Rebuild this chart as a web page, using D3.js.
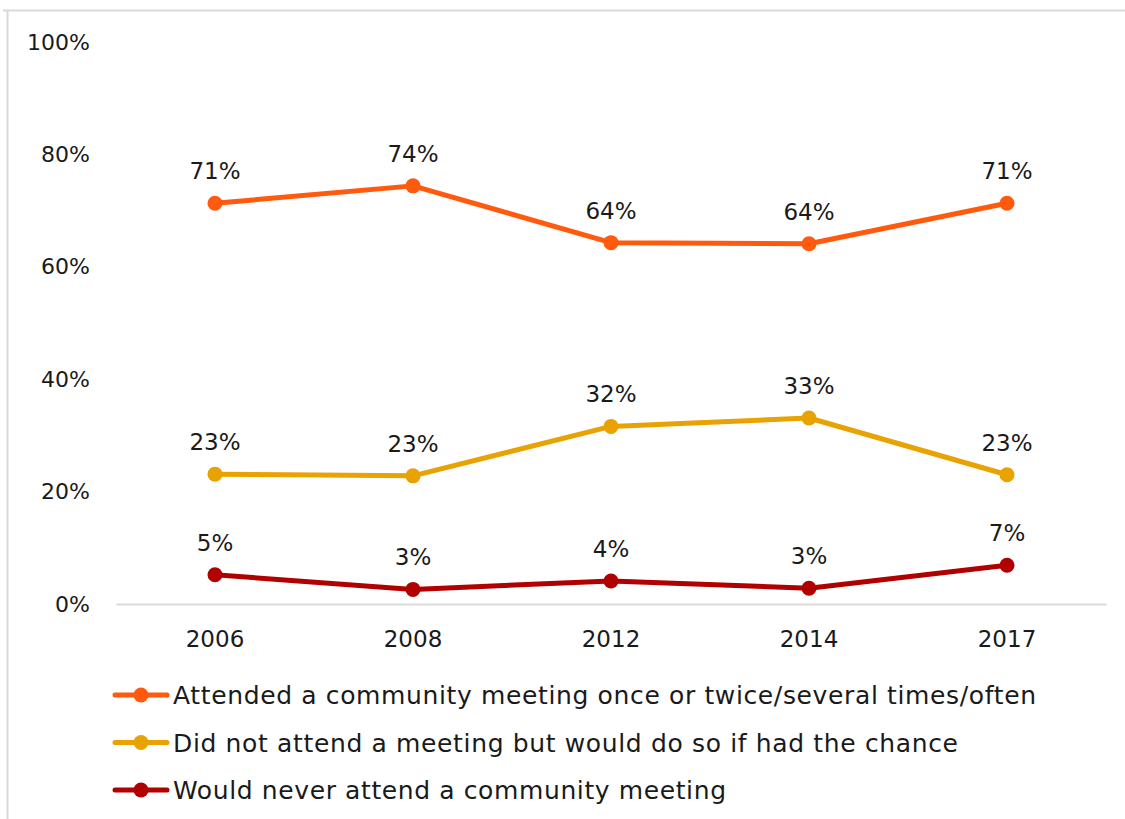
<!DOCTYPE html>
<html>
<head>
<meta charset="utf-8">
<script src="https://cdn.jsdelivr.net/npm/d3@7"></script>
<style>
  html, body { margin: 0; padding: 0; background: #fff; }
  svg text { font-family: "DejaVu Sans", "Noto Sans", sans-serif; fill: #1a1a1a; }
</style>
</head>
<body>
<svg id="chart" width="1125" height="819"></svg>
<script>
// Survey years
const years = ["2006", "2008", "2012", "2014", "2017"];

// Share of respondents per answer, in percent
const attended = [71.3, 74.4, 64.3, 64.1, 71.3];
const wouldAttend = [23.1, 22.8, 31.6, 33.1, 23.0];
const neverAttend = [5.2, 2.6, 4.1, 2.8, 6.9];

const seriesNames = [
  "Attended a community meeting once or twice/several times/often",
  "Did not attend a meeting but would do so if had the chance",
  "Would never attend a community meeting"
];
const seriesColors = ["#FF5A0D", "#E8A202", "#B00000"];
// rendered widths of the legend entries
const legendWidths = [863, 785, 553];

const yTicks = [0, 20, 40, 60, 80, 100];

const series = [attended, wouldAttend, neverAttend].map((vals, i) => ({
  name: seriesNames[i],
  color: seriesColors[i],
  width: legendWidths[i],
  values: vals.map((v, j) => ({ year: years[j], value: v }))
}));

const svg = d3.select("#chart");

// outer frame lines
svg.append("line").attr("x1", 3).attr("x2", 1125).attr("y1", 10.5).attr("y2", 10.5)
  .attr("stroke", "#d9d9d9").attr("stroke-width", 2);
svg.append("line").attr("x1", 7.5).attr("x2", 7.5).attr("y1", 10).attr("y2", 819)
  .attr("stroke", "#d9d9d9").attr("stroke-width", 2);

const x = d3.scaleBand().domain(years).range([116, 1106]);
const y = d3.scaleLinear().domain([0, 100]).range([604, 42]);

// y axis labels (no axis line)
const yAxis = d3.axisLeft(y).tickValues(yTicks).tickFormat(d => d + "%").tickSize(0).tickPadding(0);
const gy = svg.append("g").attr("transform", "translate(90,0)").call(yAxis);
gy.select(".domain").remove();
gy.selectAll("text").attr("font-size", 22).attr("font-family", "DejaVu Sans").attr("fill", "#1a1a1a");

// x axis baseline + year labels
const xAxis = d3.axisBottom(x).tickSize(0).tickPadding(27);
const gx = svg.append("g").attr("transform", "translate(0,604)").call(xAxis);
gx.select(".domain").attr("stroke", "#d9d9d9").attr("stroke-width", 2);
gx.selectAll("text").attr("font-size", 23).attr("font-family", "DejaVu Sans").attr("fill", "#1a1a1a");

const cx = d => x(d.year) + x.bandwidth() / 2;
const line = d3.line().x(cx).y(d => y(d.value));

const g = svg.append("g").selectAll("g").data(series).join("g");

g.append("path")
  .attr("d", d => line(d.values))
  .attr("fill", "none")
  .attr("stroke", d => d.color)
  .attr("stroke-width", 5)
  .attr("stroke-linejoin", "round");

g.each(function(s) {
  const sel = d3.select(this);
  sel.selectAll("circle").data(s.values).join("circle")
    .attr("cx", cx).attr("cy", d => y(d.value)).attr("r", 7.5)
    .attr("fill", s.color);
  sel.selectAll("text.lbl").data(s.values).join("text")
    .attr("class", "lbl")
    .attr("x", cx).attr("y", d => y(d.value) - 24)
    .attr("text-anchor", "middle")
    .attr("font-size", 23)
    .text(d => Math.round(d.value) + "%");
});

// legend
const legend = svg.append("g").selectAll("g").data(series).join("g")
  .attr("transform", (d, i) => `translate(0,${695 + i * 47.5})`);
legend.append("line").attr("x1", 115).attr("x2", 167).attr("y1", 0).attr("y2", 0)
  .attr("stroke", d => d.color).attr("stroke-width", 5).attr("stroke-linecap", "round");
legend.append("circle").attr("cx", 141).attr("cy", 0).attr("r", 7.5).attr("fill", d => d.color);
legend.append("text").attr("x", 173).attr("y", 0).attr("dy", "0.36em")
  .attr("font-size", 25)
  .attr("textLength", d => d.width)
  .attr("lengthAdjust", "spacing")
  .text(d => d.name);
</script>
</body>
</html>
